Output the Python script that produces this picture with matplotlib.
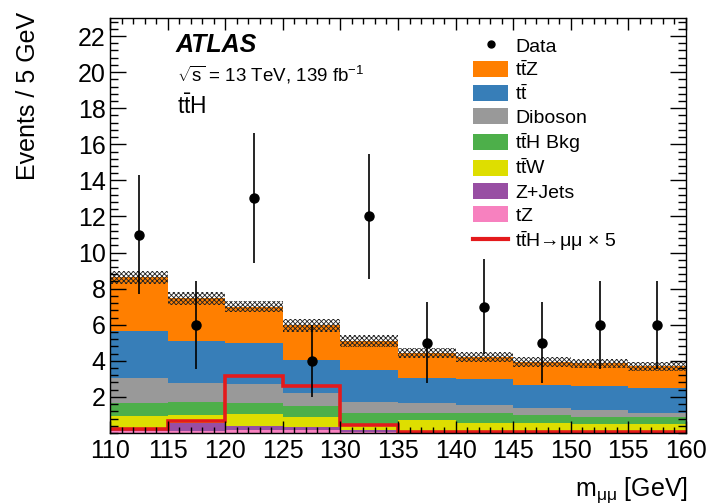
import numpy as np
import matplotlib
matplotlib.use("Agg")
import matplotlib.pyplot as plt
from matplotlib.patches import Patch
from matplotlib.lines import Line2D
from matplotlib.ticker import MultipleLocator

plt.rcParams['font.family'] = ['Liberation Sans', 'DejaVu Sans']
plt.rcParams['mathtext.fontset'] = 'custom'
plt.rcParams['mathtext.rm'] = 'Liberation Sans'
plt.rcParams['mathtext.it'] = 'Liberation Sans:italic'
plt.rcParams['mathtext.bf'] = 'Liberation Sans:bold'
plt.rcParams['hatch.linewidth'] = 0.6

# Binning (m_mumu, 5 GeV bins)
edges = np.arange(110, 161, 5)
centers = 0.5 * (edges[:-1] + edges[1:])

# Background yields per bin (stacked bottom to top)
tZ      = [0.12, 0.11, 0.15, 0.15, 0.06, 0.05, 0.05, 0.05, 0.05, 0.05]
zjets   = [0.18, 0.44, 0.24, 0.20, 0.08, 0.05, 0.05, 0.05, 0.05, 0.05]
ttW     = [0.66, 0.45, 0.66, 0.55, 0.31, 0.62, 0.47, 0.44, 0.40, 0.40]
ttH_bkg = [0.72, 0.72, 0.63, 0.61, 0.64, 0.40, 0.52, 0.46, 0.40, 0.37]
diboson = [1.35, 1.07, 1.03, 0.69, 0.64, 0.56, 0.46, 0.40, 0.37, 0.25]
ttbar   = [2.62, 2.32, 2.26, 1.84, 1.76, 1.35, 1.42, 1.26, 1.33, 1.35]
ttZ     = [2.99, 2.36, 2.04, 1.92, 1.62, 1.42, 1.26, 1.27, 1.26, 1.24]

# Background uncertainty (half-width of hatched band)
bkg_unc = [0.36, 0.35, 0.33, 0.34, 0.32, 0.27, 0.27, 0.26, 0.26, 0.25]

# Signal ttH -> mumu scaled by 5
signal_x5 = [0.22, 0.68, 3.16, 2.60, 0.44, 0.08, 0.08, 0.08, 0.08, 0.08]

# Observed events
data = [11, 6, 13, 4, 12, 5, 7, 5, 6, 6]

components = [
    (tZ,      '#f781bf', r'$\mathrm{tZ}$'),
    (zjets,   '#984ea3', 'Z+Jets'),
    (ttW,     '#dede00', r'$\mathrm{t\bar{t}W}$'),
    (ttH_bkg, '#4daf4a', r'$\mathrm{t\bar{t}H}$ Bkg'),
    (diboson, '#999999', 'Diboson'),
    (ttbar,   '#377eb8', r'$\mathrm{t\bar{t}}$'),
    (ttZ,     '#ff7f00', r'$\mathrm{t\bar{t}Z}$'),
]

fig = plt.figure(figsize=(7.12, 5.04), dpi=100)
ax = fig.add_axes([110/712, 71/504, 576/712, 415/504])

bottom = np.zeros(len(centers))
for vals, col, lab in components:
    vals = np.asarray(vals)
    ax.stairs(bottom + vals, edges, baseline=bottom.copy(), fill=True,
              color=col, linewidth=0)
    bottom = bottom + vals
total = bottom

unc = np.asarray(bkg_unc)
ax.stairs(total + unc, edges, baseline=total - unc, fill=True,
          facecolor='none', edgecolor='#222222', hatch='xxxxxxx', linewidth=0)

ax.stairs(signal_x5, edges, baseline=None, color='#e41a1c', linewidth=2.6)

data = np.asarray(data, dtype=float)
ax.errorbar(centers, data, yerr=np.sqrt(data), fmt='o', color='black',
            markersize=6.5, elinewidth=1.2, capsize=0, zorder=5)

ax.set_xlim(110, 160)
ax.set_ylim(0, 23)
ax.xaxis.set_major_locator(MultipleLocator(5))
ax.xaxis.set_minor_locator(MultipleLocator(1))
ax.yaxis.set_minor_locator(MultipleLocator(0.4))
ax.set_yticks(np.arange(2, 23, 2))
ax.tick_params(which='both', direction='in', top=True, right=True, width=1.0,
               labelsize=18)
ax.tick_params(axis='x', which='major', length=8.6, pad=4)
ax.tick_params(axis='x', which='minor', length=4.3)
ax.tick_params(axis='y', which='major', length=11.5, pad=3)
ax.tick_params(axis='y', which='minor', length=5.8)
for sp in ax.spines.values():
    sp.set_linewidth(1.0)

fig.text(28/712, 1 - 12/504, 'Events / 5 GeV', rotation=90, ha='center',
         va='top', fontsize=18)
fig.text(688/712, 1 - 490/504, r'$\mathrm{m}_{\mathrm{μμ}}$ [GeV]',
         ha='right', va='center', fontsize=18)

fig.text(176/712, 1 - 45/504, 'ATLAS', fontsize=18, fontweight='bold',
         fontstyle='italic', va='center')
fig.text(177/712, 1 - 75/504, r'$\sqrt{\mathrm{s}}$ = 13 TeV, 139 fb$^{-1}$',
         fontsize=13.5, va='center')
fig.text(177/712, 1 - 107/504, r'$\mathrm{t\bar{t}H}$', fontsize=16.5,
         va='center')

handles = [Line2D([], [], marker='o', color='black', linestyle='none',
                  markersize=5)]
labels = ['Data']
for vals, col, lab in reversed(components):
    handles.append(Patch(facecolor=col, edgecolor='none'))
    labels.append(lab)
handles.append(Line2D([], [], color='#e41a1c', linewidth=3))
labels.append(r'$\mathrm{t\bar{t}H}$→μμ × 5')

ax.legend(handles, labels, loc='upper left',
          bbox_to_anchor=(473/712, 1 - 37/504), bbox_transform=fig.transFigure,
          frameon=False, fontsize=14, borderpad=0, borderaxespad=0,
          handlelength=1.8, handleheight=0.9, handletextpad=0.36,
          labelspacing=0.22)

fig.savefig('out.png', dpi=100)
